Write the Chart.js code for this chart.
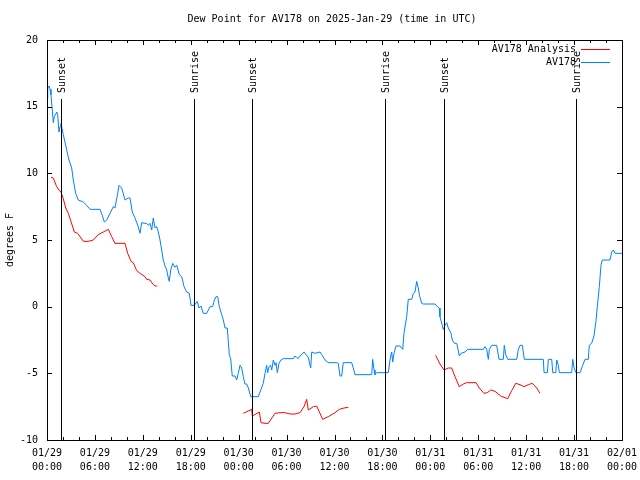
<!DOCTYPE html>
<html lang="en">
<head>
<meta charset="UTF-8">
<script src="https://cdn.jsdelivr.net/npm/chart.js@4.4.1/dist/chart.umd.min.js"></script>
<title>Dew Point for AV178</title>
<style>
  body { margin: 0; background: #fff; }
  #myChart { display: block; }
</style>
</head>
<body>
<canvas id="myChart" width="640" height="480"></canvas>
<script>
// hours since 2025-01-29 00:00 UTC
var obsHours = [0, 0.09, 0.25, 0.38, 0.5, 0.66, 0.79, 0.91, 1.13, 1.21, 1.34, 1.5, 1.63, 1.75, 1.92, 2.04, 2.47, 2.75, 3.09, 3.29,
  3.59, 3.92, 4.55, 4.97, 5.38, 6.64, 6.92, 7.18, 7.48, 7.89, 8.3, 8.51, 8.85, 9.02, 9.35, 9.77, 10.18, 10.39, 10.68, 11.02,
  11.43, 11.65, 11.86, 12.27, 12.48, 12.69, 12.9, 13.11, 13.31, 13.52, 13.74, 13.94, 14.15, 14.36, 14.56, 14.78, 14.99, 15.19, 15.31, 15.49,
  15.74, 16.03, 16.24, 16.57, 16.87, 17.16, 17.49, 17.82, 18.03, 18.44, 18.82, 19.03, 19.28, 19.57, 20.0, 20.41, 20.75, 20.91, 21.16, 21.37,
  21.58, 21.88, 22.08, 22.29, 22.58, 22.7, 22.83, 23.0, 23.2, 23.54, 23.75, 23.95, 24.17, 24.38, 24.58, 24.79, 25.01, 25.21, 25.51, 26.46,
  26.67, 27.08, 27.3, 27.5, 27.63, 27.8, 28.01, 28.14, 28.34, 28.55, 28.68, 28.84, 29.05, 29.3, 29.59, 30.84, 31.05, 31.26, 31.46, 31.68,
  32.18, 32.43, 32.72, 33.02, 33.15, 33.56, 34.19, 34.4, 34.81, 35.22, 36.27, 36.47, 36.69, 36.9, 37.1, 38.15, 38.35, 38.57, 40.66, 40.78,
  40.95, 41.07, 41.28, 42.74, 42.95, 43.16, 43.29, 43.45, 43.7, 44.2, 44.54, 44.7, 45.04, 45.24, 45.67, 45.87, 46.08, 46.29, 46.49, 46.62,
  46.92, 47.12, 48.59, 48.8, 49.12, 49.21, 49.42, 49.62, 49.84, 50.05, 50.25, 50.59, 50.75, 51.0, 51.3, 51.43, 51.63, 51.84, 52.34, 52.68,
  54.64, 54.85, 55.06, 55.26, 55.39, 55.69, 56.31, 56.6, 57.14, 57.26, 57.44, 57.69, 58.82, 59.02, 59.23, 59.52, 59.77, 62.15, 62.24, 62.65,
  62.78, 63.2, 63.33, 63.71, 63.83, 64.03, 64.16, 65.7, 65.83, 66.0, 66.24, 66.74, 67.08, 67.37, 67.78, 67.9, 68.2, 68.33, 68.49, 68.74,
  68.91, 69.16, 69.37, 69.53, 70.5, 70.71, 70.91, 71.12, 72.0];
var obsValues = [15.6, 16.4, 16.55, 16.3, 15.9, 14.75, 13.8, 14.25, 14.5, 14.6, 14.4, 13.1, 13.5, 13.75, 13.25, 12.9, 11.75, 11.0, 10.4, 9.5,
  8.5, 8.0, 7.85, 7.6, 7.3, 7.3, 6.85, 6.35, 6.5, 7.0, 7.5, 7.4, 8.5, 9.1, 8.9, 8.0, 8.15, 8.15, 7.1, 6.65,
  6.0, 5.5, 6.3, 6.25, 6.25, 6.1, 6.25, 5.75, 6.65, 5.9, 6.0, 5.6, 5.0, 4.25, 3.5, 3.05, 2.75, 2.15, 1.9, 2.75,
  3.25, 2.95, 3.1, 2.4, 2.25, 1.5, 1.1, 1.0, 0.1, 0.1, 0.4, -0.1, 0.05, -0.5, -0.5, 0.0, 0.0, 0.4, 0.75, 0.75,
  0.0, -0.6, -1.0, -1.6, -1.6, -2.6, -3.6, -3.9, -5.2, -5.2, -5.5, -5.0, -4.4, -4.6, -5.25, -5.8, -5.8, -6.1, -6.75, -6.75,
  -6.4, -5.75, -5.0, -4.4, -4.95, -4.5, -4.4, -4.75, -4.0, -4.4, -4.2, -4.95, -4.25, -4.0, -3.9, -3.9, -3.7, -3.8, -3.9, -3.7,
  -3.4, -3.6, -3.8, -4.6, -3.4, -3.5, -3.4, -3.6, -4.0, -4.2, -4.2, -4.25, -5.2, -5.2, -4.2, -4.2, -4.6, -5.1, -5.1, -3.95,
  -4.75, -5.1, -4.95, -4.95, -4.0, -3.4, -4.15, -3.5, -2.95, -2.95, -3.2, -2.0, -0.75, 0.55, 0.55, 1.0, 1.1, 1.9, 1.4, 0.9,
  0.25, 0.2, 0.2, 0.05, -0.1, -0.75, -1.25, -1.7, -1.4, -1.2, -1.6, -2.0, -2.5, -2.75, -2.75, -3.1, -3.7, -3.5, -3.4, -3.2,
  -3.2, -3.0, -3.2, -3.95, -3.2, -2.9, -2.9, -3.95, -3.95, -2.9, -3.6, -3.95, -3.95, -3.2, -2.9, -2.9, -3.95, -3.95, -4.95, -4.95,
  -3.95, -3.95, -4.95, -4.95, -4.0, -4.4, -4.95, -4.95, -3.95, -4.6, -4.95, -4.95, -4.4, -3.95, -3.95, -2.9, -2.75, -2.5, -2.2, -1.1,
  0.0, 1.5, 3.1, 3.5, 3.5, 4.1, 4.25, 4.0, 4.0];

// analysis series, null breaks the line between runs
var analysisHours = [0.5, 0.79, 1.21, 1.5, 1.75, 2.04, 2.34, 2.67, 3.0, 3.42, 3.84, 4.55, 5.17, 5.8, 6.42, 7.05, 7.68, 8.1, 8.51, 9.77,
  10.1, 10.52, 10.8, 11.23, 11.65, 12.27, 12.48, 12.9, 13.24, 13.52, 13.81,
  19.0,
  24.58, 25.63, 25.71, 26.59, 26.8, 27.3, 27.71, 28.55, 29.18, 29.8, 30.43, 31.05, 31.68, 32.18, 32.52, 32.72, 33.35, 33.77, 34.52, 35.22,
  35.94, 36.6, 37.19, 37.73,
  43.0,
  48.67, 49.21, 49.71, 50.25, 50.67, 51.09, 51.63, 52.13, 52.55, 53.72, 54.13, 54.72, 55.13, 55.56, 56.1, 56.81, 57.69, 58.19, 58.69, 59.23,
  59.73, 60.27, 60.77, 61.32, 61.73];
var analysisValues = [9.7, 9.65, 9.0, 8.75, 8.6, 8.1, 7.4, 7.0, 6.4, 5.6, 5.5, 4.9, 4.9, 5.0, 5.4, 5.6, 5.8, 5.25, 4.75, 4.75,
  4.0, 3.4, 3.3, 2.7, 2.5, 2.25, 2.05, 2.0, 1.7, 1.55, 1.55,
  null,
  -8.0, -7.7, -8.2, -7.9, -8.7, -8.75, -8.75, -8.0, -7.95, -7.95, -8.05, -8.05, -7.95, -7.5, -6.95, -7.75, -7.5, -7.45, -8.45, -8.25,
  -8.0, -7.7, -7.6, -7.55,
  null,
  -3.65, -4.3, -4.75, -4.6, -4.6, -5.25, -6.0, -5.8, -5.7, -5.7, -6.1, -6.5, -6.45, -6.25, -6.35, -6.7, -6.9, -6.3, -5.75, -5.85,
  -6.0, -5.85, -5.75, -6.1, -6.5];

var sunHours = [1.71, 18.41, 25.67, 42.32, 49.71, 66.24];
var sunLabels = ['Sunset', 'Sunrise', 'Sunset', 'Sunrise', 'Sunset', 'Sunrise'];

var xTickDates = ['01/29', '01/29', '01/29', '01/29', '01/30', '01/30', '01/30', '01/30', '01/31', '01/31', '01/31', '01/31', '02/01'];
var xTickTimes = ['00:00', '06:00', '12:00', '18:00', '00:00', '06:00', '12:00', '18:00', '00:00', '06:00', '12:00', '18:00', '00:00'];
var yTicks = [-10, -5, 0, 5, 10, 15, 20];

var FONT = 'DejaVu Sans Mono';
var RED = '#ff0000';
var BLUE = '#0080ff';

function pairs(xs, ys) {
  var out = [];
  for (var i = 0; i < xs.length; i++) out.push({ x: xs[i], y: ys[i] });
  return out;
}

var decor = {
  id: 'decor',
  afterDraw: function (chart) {
    var ctx = chart.ctx, a = chart.chartArea;
    var xs = chart.scales.x, ys = chart.scales.y;
    ctx.save();
    ctx.strokeStyle = '#000';
    ctx.lineWidth = 1;
    // frame
    ctx.strokeRect(Math.round(a.left) + 0.5, Math.round(a.top) + 0.5, Math.round(a.right - a.left), Math.round(a.bottom - a.top));
    ctx.beginPath();
    // x ticks every 2h, longer every 6h, top and bottom
    for (var h = 0; h <= 72; h += 2) {
      var px = Math.round(xs.getPixelForValue(h)) + 0.5;
      var len = (h % 6 === 0) ? 5 : 3;
      ctx.moveTo(px, a.bottom); ctx.lineTo(px, a.bottom - len);
      ctx.moveTo(px, a.top); ctx.lineTo(px, a.top + len);
    }
    // y ticks left and right
    yTicks.forEach(function (v) {
      var py = Math.round(ys.getPixelForValue(v)) + 0.5;
      ctx.moveTo(a.left, py); ctx.lineTo(a.left + 5, py);
      ctx.moveTo(a.right, py); ctx.lineTo(a.right - 5, py);
    });
    ctx.stroke();

    // sunrise / sunset markers
    ctx.fillStyle = '#000';
    ctx.font = '10px "' + FONT + '"';
    sunHours.forEach(function (h, i) {
      var px = Math.round(xs.getPixelForValue(h)) + 0.5;
      ctx.beginPath();
      ctx.moveTo(px, a.top + 59);
      ctx.lineTo(px, a.bottom);
      ctx.stroke();
      ctx.save();
      ctx.translate(px + 1, a.top + 53);
      ctx.rotate(-Math.PI / 2);
      ctx.textAlign = 'left';
      ctx.textBaseline = 'middle';
      ctx.fillText(sunLabels[i], 0, 0);
      ctx.restore();
    });

    // legend
    var entries = [['AV178 Analysis', RED], ['AV178', BLUE]];
    entries.forEach(function (e, i) {
      var y = a.top + 9.5 + i * 13;
      ctx.fillStyle = '#000';
      ctx.textAlign = 'right';
      ctx.textBaseline = 'middle';
      ctx.fillText(e[0], 576, y);
      ctx.strokeStyle = e[1];
      ctx.beginPath();
      ctx.moveTo(581, y); ctx.lineTo(610, y);
      ctx.stroke();
    });

    // title and y axis label
    ctx.fillStyle = '#000';
    ctx.textAlign = 'center';
    ctx.textBaseline = 'middle';
    ctx.fillText('Dew Point for AV178 on 2025-Jan-29 (time in UTC)', 332, 19);
    ctx.save();
    ctx.translate(10, (a.top + a.bottom) / 2);
    ctx.rotate(-Math.PI / 2);
    ctx.fillText('degrees F', 0, 0);
    ctx.restore();
    ctx.restore();
  }
};

var ctx = document.getElementById('myChart').getContext('2d');
var myChart = new Chart(ctx, {
  type: 'line',
  data: {
    datasets: [{
      label: 'AV178 Analysis',
      data: pairs(analysisHours, analysisValues),
      borderColor: RED,
      borderWidth: 1,
      pointRadius: 0,
      spanGaps: false,
      tension: 0
    }, {
      label: 'AV178',
      data: pairs(obsHours, obsValues),
      borderColor: BLUE,
      borderWidth: 1,
      pointRadius: 0,
      tension: 0
    }]
  },
  plugins: [decor],
  options: {
    responsive: false,
    animation: false,
    layout: { padding: { top: 40, right: 18, left: 0, bottom: 0 } },
    plugins: {
      legend: { display: false },
      title: { display: false },
      tooltip: { enabled: false }
    },
    scales: {
      x: {
        type: 'linear',
        min: 0,
        max: 72,
        afterFit: function (s) { s.height = 40; s.paddingLeft = 0; s.paddingRight = 0; },
        grid: { display: false, drawTicks: false },
        border: { display: false },
        ticks: {
          stepSize: 6,
          autoSkip: false,
          maxRotation: 0,
          padding: 6,
          color: '#000',
          font: { family: FONT, size: 10, lineHeight: 1.4 },
          callback: function (v, i) { return [xTickDates[i], xTickTimes[i]]; }
        }
      },
      y: {
        min: -10,
        max: 20,
        afterFit: function (s) { s.width = 47; s.paddingTop = 0; s.paddingBottom = 0; },
        grid: { display: false, drawTicks: false },
        border: { display: false },
        ticks: {
          stepSize: 5,
          padding: 9,
          color: '#000',
          font: { family: FONT, size: 10 }
        }
      }
    }
  }
});
</script>
</body>
</html>
